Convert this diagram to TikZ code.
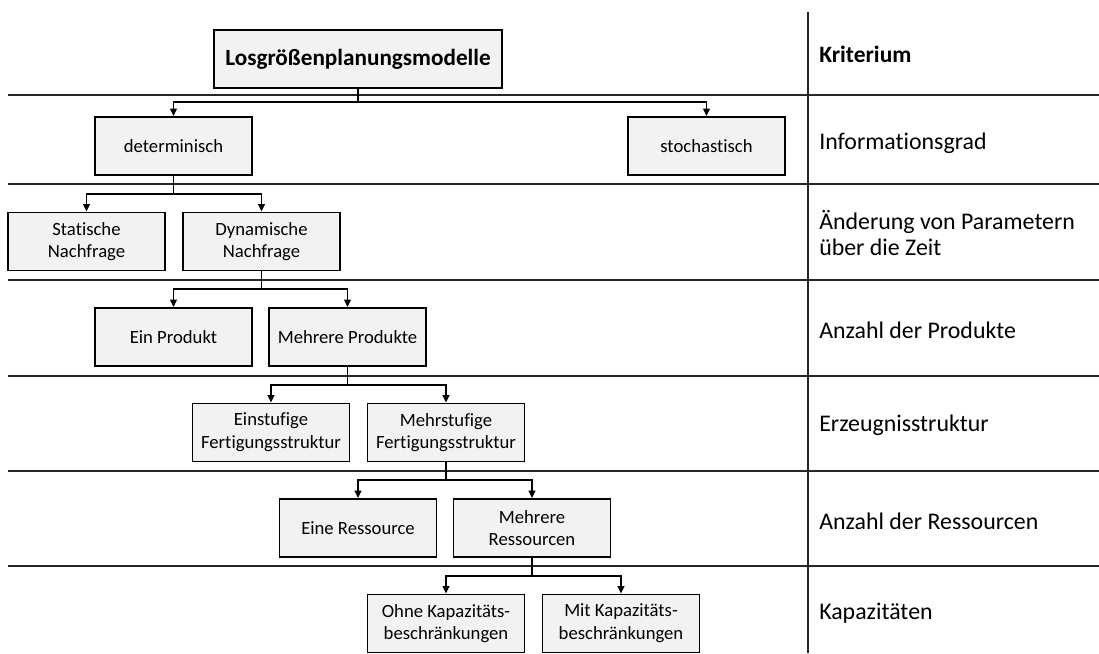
\documentclass[tikz,border=0pt]{standalone}
\usepackage{fontspec}
\setmainfont{Carlito}[Ligatures=NoCommon]
\usetikzlibrary{arrows.meta}
\begin{document}
\begin{tikzpicture}[x=0.75pt,y=-0.75pt,
  box/.style={draw=black,fill=gray!10,line width=1.4pt,minimum width=117.75pt,minimum height=43.5pt,align=center,inner sep=1pt,font=\fontsize{14}{17}\selectfont},
  topbox/.style={box,minimum width=216pt,font=\fontsize{17.4}{20}\selectfont\bfseries},
  crit/.style={anchor=west,align=left,inner sep=0pt,font=\fontsize{17.9}{19.5}\selectfont},
  rule/.style={line width=0.9pt,draw=black!85},
  conn/.style={line width=1pt},
  arr/.style={conn,-{Triangle[length=5.5pt,width=5pt]}}]
\useasboundingbox (0,0) rectangle (1099,653);
% grid lines
\coordinate (vt) at (808,12);
\coordinate (vb) at (808,653);
\draw[rule] (vt) -- (vb);
\foreach \yy/\nm in {95/h1,184/h2,280/h3,376/h4,471/h5,566/h6}{
  \coordinate (\nm l) at (8,\yy);
  \coordinate (\nm r) at (1099,\yy);
  \draw[rule] (\nm l) -- (\nm r);
}
% nodes
\node[topbox] (top) at (358,59) {Losgrößenplanungsmodelle};
\node[box] (det) at (173.5,146) {determinisch};
\node[box] (sto) at (706.5,146) {stochastisch};
\node[box] (stat) at (86.5,241.5) {Statische\\Nachfrage};
\node[box] (dyn) at (261.5,241.5) {Dynamische\\Nachfrage};
\node[box] (einp) at (173.5,337) {Ein Produkt};
\node[box] (mehrp) at (347.5,337) {Mehrere Produkte};
\node[box] (einst) at (271,432.5) {Einstufige\\Fertigungsstruktur};
\node[box] (mehrst) at (446,432.5) {Mehrstufige\\Fertigungsstruktur};
\node[box] (einr) at (358,528) {Eine Ressource};
\node[box] (mehrr) at (532,528) {Mehrere\\Ressourcen};
\node[box] (ohne) at (446,623.5) {Ohne Kapazitäts-\\beschränkungen};
\node[box] (mit) at (621,623.5) {Mit Kapazitäts-\\beschränkungen};
% criteria
\node[crit,font=\fontsize{17.6}{20}\selectfont\bfseries] (k0) at (819,54) {Kriterium};
\node[crit] (k1) at (819,143) {Informationsgrad};
\node[crit] (k2) at (819,233) {Änderung von Parametern\\über die Zeit};
\node[crit] (k3) at (819,330) {Anzahl der Produkte};
\node[crit] (k4) at (819,425) {Erzeugnisstruktur};
\node[crit] (k5) at (819,521) {Anzahl der Ressourcen};
\node[crit] (k6) at (819,613) {Kapazitäten};
% connectors
\coordinate (j1) at (358,102);
\draw[conn] (top.south) -- (j1);
\draw[arr] (j1) -| (det.north);
\draw[arr] (j1) -| (sto.north);
\coordinate (j2) at (173.5,194);
\draw[conn] (det.south) -- (j2);
\draw[arr] (j2) -| (stat.north);
\draw[arr] (j2) -| (dyn.north);
\coordinate (j3) at (261.5,289);
\draw[conn] (dyn.south) -- (j3);
\draw[arr] (j3) -| (einp.north);
\draw[arr] (j3) -| (mehrp.north);
\coordinate (j4) at (347.5,385);
\draw[conn] (mehrp.south) -- (j4);
\draw[arr] (j4) -| (einst.north);
\draw[arr] (j4) -| (mehrst.north);
\coordinate (j5) at (446,480);
\draw[conn] (mehrst.south) -- (j5);
\draw[arr] (j5) -| (einr.north);
\draw[arr] (j5) -| (mehrr.north);
\coordinate (j6) at (532,576);
\draw[conn] (mehrr.south) -- (j6);
\draw[arr] (j6) -| (ohne.north);
\draw[arr] (j6) -| (mit.north);
\end{tikzpicture}
\end{document}
